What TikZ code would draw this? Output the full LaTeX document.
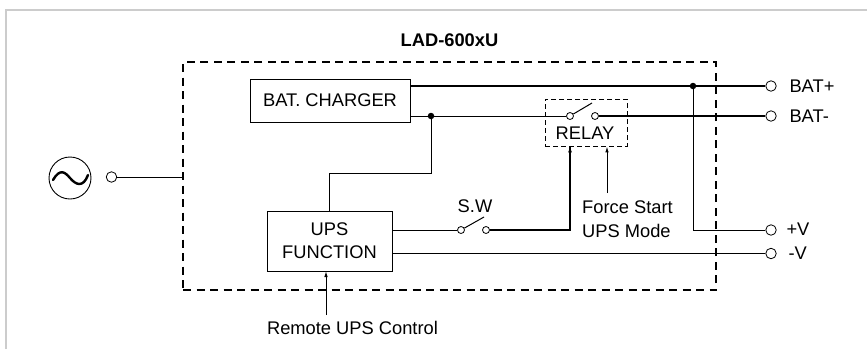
\documentclass[tikz,border=0pt]{standalone}
\usepackage{fontspec}
\setmainfont{Liberation Sans}
\usepackage{tikz}
\usetikzlibrary{arrows.meta}

\begin{document}
\begin{tikzpicture}[x=1pt, y=-1pt, font=\fontsize{18.3}{20}\selectfont, align=center,
    block/.style={rectangle, draw, line width=1pt, inner sep=0pt, outer sep=0pt},
    lad/.style={rectangle, draw, line width=1.6pt, dash pattern=on 8pt off 5.5pt, inner sep=0pt},
    rel/.style={rectangle, draw, line width=0.8pt, dash pattern=on 5pt off 3pt, inner sep=0pt},
    term/.style={circle, draw, fill=white, line width=0.8pt, minimum size=10.5pt, inner sep=0pt},
    cont/.style={circle, draw, fill=white, line width=0.8pt, minimum size=7pt, inner sep=0pt},
    dot/.style={circle, fill, minimum size=6.5pt, inner sep=0pt},
    n/.style={line width=1pt},
    b/.style={line width=1.7pt},
    a/.style={-{Latex[length=6pt, width=3.5pt]}, line width=1pt}]
                \useasboundingbox (0,0) rectangle (867,349);
                % frame
                \draw[black!20, line width=1.2pt] (6,349) -- (6,10) -- (867,10);
                % nodes
                \node[lad, minimum width=533, minimum height=228] (unit) at (449.5,176) {};
                \node[font=\fontsize{18.3}{20}\selectfont\bfseries] (title) at (449.5,40) {LAD-600xU};
                \node[block, minimum width=160, minimum height=43] (charger) at (330,100.5) {BAT. CHARGER};
                \node[block, minimum width=125, minimum height=60] (ups) at (329.5,241) {UPS\\[3pt]FUNCTION};
                \node[rel, minimum width=82, minimum height=47] (relay) at (586,122.5) {};
                \node (relaytxt) at (585,133) {RELAY};
                \node[circle, draw, line width=0.9pt, minimum size=42pt, inner sep=0pt] (ac) at (70,178) {};
                \node[term] (tac) at (111.5,177) {};
                \node[term] (tbatp) at (771,86) {};
                \node[term] (tbatn) at (771,116) {};
                \node[term] (tvp) at (771,230) {};
                \node[term] (tvn) at (771,253.5) {};
                \node[cont] (rin) at (570,116) {};
                \node[cont] (rout) at (595,116) {};
                \node[cont] (swin) at (461,230) {};
                \node[cont] (swout) at (486,230) {};
                \node[dot] (jp) at (693,86) {};
                \node[dot] (jn) at (431,116) {};
                \node[anchor=west] (lbatp) at (786,86) {BAT+};
                \node[anchor=west] (lbatn) at (786,116) {BAT-};
                \node[anchor=west] (lvp) at (783,229) {+V};
                \node[anchor=west] (lvn) at (785,253.5) {-V};
                \node (lsw) at (475,206) {S.W};
                \node[anchor=west, inner sep=0pt] (lforce) at (582,207.5) {Force Start};
                \node[anchor=west, inner sep=0pt] (lmode) at (582,230.5) {UPS Mode};
                \node (lremote) at (352.5,328) {Remote UPS Control};
                \coordinate (cforce) at (607,193);
                \coordinate (cremote) at (326,315);
                \coordinate (bend) at (431,173);
                \coordinate (rtip) at (592,103);
                \coordinate (stip) at (484,217);
                % edges
                \draw[n] (tac) -- (unit.west |- tac);
                \draw[b] (charger.east |- tbatp) -- (tbatp);
                \draw[n] (charger.east |- tbatn) -- (rin);
                \draw[b] (rout) -- (tbatn);
                \draw[n] (jn) -- (bend) -| (ups.north);
                \draw[n] (jp) |- (tvp);
                \draw[n] (ups.east |- swin) -- (swin);
                \draw[n] (ups.east |- tvn) -- (tvn);
                \draw[b] (swout) -| (rin |- relay.south);
                \draw[-{Latex[length=6pt, width=4pt]}, line width=1.2pt] (rin |- swout) -- (rin |- relay.south);
                \draw[a] (cforce) -- (cforce |- relay.south);
                \draw[a] (cremote) -- (cremote |- ups.south);
                \draw[n] (rin) -- (rtip);
                \draw[n] (swin) -- (stip);
                % source symbol
                \draw[line width=2.4pt, line cap=round] (53,180) .. controls (60,168) and (65,172) .. (70,178) .. controls (76,185) and (83,188) .. (88,175);
\end{tikzpicture}
\end{document}
